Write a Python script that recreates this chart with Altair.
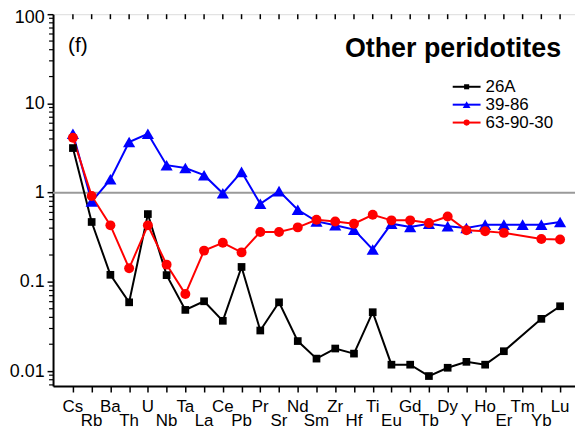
import altair as alt
import pandas as pd

# ---- data ----
elements = ["Cs", "Rb", "Ba", "Th", "U", "Nb", "Ta", "La", "Ce", "Pb", "Pr", "Sr", "Nd",
            "Sm", "Zr", "Hf", "Ti", "Eu", "Gd", "Tb", "Dy", "Y", "Ho", "Er", "Tm", "Yb", "Lu"]

series_names = ["26A", "39-86", "63-90-30"]
series_colors = ["#000000", "#0000ff", "#ff0000"]
series_shapes = ["square", "triangle-up", "circle"]
marker_sizes = [60, 150, 100]
legend_marker_sizes = [26, 60, 38]

v_26A = [3.16, 0.469, 0.120, 0.059, 0.575, 0.119, 0.0485, 0.0606, 0.0366, 0.147, 0.0285,
         0.059, 0.0217, 0.0138, 0.0179, 0.0157, 0.0457, 0.0118, 0.0118, 0.0088, 0.0109,
         0.0127, 0.0118, 0.0167, None, 0.0385, 0.0533]
v_39_86 = [4.57, 0.794, 1.41, 3.69, 4.57, 2.03, 1.89, 1.57, 0.985, 1.71, 0.749, 1.04,
           0.642, 0.476, 0.43, 0.385, 0.231, 0.449, 0.413, 0.449, 0.419, 0.402, 0.438,
           0.438, 0.438, 0.438, 0.469]
v_63_90_30 = [4.13, 0.919, 0.43, 0.142, 0.43, 0.156, 0.073, 0.224, 0.274, 0.214, 0.363,
              0.363, 0.408, 0.497, 0.476, 0.449, 0.565, 0.489, 0.489, 0.457, 0.541, 0.378,
              0.369, 0.354, None, 0.303, 0.298]

y_major = [0.01, 0.1, 1, 10, 100]
y_minor = [0.007, 0.008, 0.009,
           0.02, 0.03, 0.04, 0.05, 0.06, 0.07, 0.08, 0.09,
           0.2, 0.3, 0.4, 0.5, 0.6, 0.7, 0.8, 0.9,
           2, 3, 4, 5, 6, 7, 8, 9,
           20, 30, 40, 50, 60, 70, 80, 90]

panel_tag = "(f)"
panel_title = "Other peridotites"

# ---- tables ----
rows = []
for k, (name, vals) in enumerate(zip(series_names, [v_26A, v_39_86, v_63_90_30])):
    for i, v in enumerate(vals):
        if v is not None:
            rows.append({"idx": i, "element": elements[i], "value": v, "series": name,
                         "k": k, "sz": marker_sizes[k]})
df = pd.DataFrame(rows)

el_df = pd.DataFrame({"idx": list(range(len(elements))), "element": elements})
el_even = el_df[el_df["idx"] % 2 == 0]
el_odd = el_df[el_df["idx"] % 2 == 1]
ref_df = pd.DataFrame({"value": [1]})
minor_df = pd.DataFrame({"value": y_minor})
leg_df = pd.DataFrame({"series": series_names, "rank": [0, 1, 2],
                       "sz": legend_marker_sizes})

FONT = "Liberation Sans"
W, H = 525, 374

x_scale = alt.Scale(domain=[-1.061, 26.796], nice=False, zero=False)
y_scale = alt.Scale(type="log", domain=[0.0068, 100], nice=False)
color_scale = alt.Scale(domain=series_names, range=series_colors)
shape_scale = alt.Scale(domain=series_names, range=series_shapes)

x_axis = alt.Axis(values=list(range(len(elements))), labels=False, ticks=True, tickSize=6,
                  tickWidth=1.5, tickColor="black", domain=True, domainColor="black",
                  domainWidth=2, grid=False, title=None)
y_axis = alt.Axis(values=y_major, format="~g", labelFontSize=18, labelFont=FONT,
                  labelColor="black", tickSize=6, tickWidth=1.5, tickColor="black",
                  domainColor="black", domainWidth=2, labelPadding=3, grid=False, title=None,
                  labelOffset={"condition": {"test": "datum.value >= 100", "value": 3},
                               "value": 0})

X = alt.X("idx:Q", scale=x_scale, axis=x_axis)

ref_rule = alt.Chart(ref_df).mark_rule(color="#9a9a9a", strokeWidth=2).encode(
    y=alt.Y("value:Q", scale=y_scale, axis=None))

minor_ticks = alt.Chart(minor_df).mark_rule(color="black", strokeWidth=1.2).encode(
    y=alt.Y("value:Q", scale=y_scale, axis=None), x=alt.value(-4), x2=alt.value(0))

top_ticks = alt.Chart(el_df).mark_rule(color="black", strokeWidth=1.5).encode(
    x=X, y=alt.value(0), y2=alt.value(5))

lines = alt.Chart(df).mark_line(strokeWidth=2).encode(
    x=X,
    y=alt.Y("value:Q", scale=y_scale, axis=y_axis),
    color=alt.Color("series:N", scale=color_scale, legend=None),
    detail="series:N",
    order=alt.Order("idx:Q"))

points = alt.Chart(df).mark_point(filled=True, opacity=1).encode(
    x=X,
    y=alt.Y("value:Q", scale=y_scale, axis=None),
    color=alt.Color("series:N", scale=color_scale, legend=None),
    shape=alt.Shape("series:N", scale=shape_scale, legend=None),
    size=alt.Size("sz:Q", scale=None, legend=None),
    order=alt.Order("k:Q"))

lab_even = alt.Chart(el_even).mark_text(fontSize=17, font=FONT, color="black",
                                        align="center", baseline="alphabetic").encode(
    x=X, y=alt.value(400), text="element:N")
lab_odd = alt.Chart(el_odd).mark_text(fontSize=17, font=FONT, color="black",
                                      align="center", baseline="alphabetic").encode(
    x=X, y=alt.value(414.5), text="element:N")

leg_y = alt.Y("rank:Q", scale=alt.Scale(domain=[0, 2], range=[73, 109]), axis=None)
leg_line = alt.Chart(leg_df).mark_rule(strokeWidth=2).encode(
    x=alt.value(402), x2=alt.value(430), y=leg_y,
    color=alt.Color("series:N", scale=color_scale, legend=None))
leg_pt = alt.Chart(leg_df).mark_point(filled=True, opacity=1).encode(
    x=alt.value(416), y=leg_y,
    color=alt.Color("series:N", scale=color_scale, legend=None),
    shape=alt.Shape("series:N", scale=shape_scale, legend=None),
    size=alt.Size("sz:Q", scale=None, legend=None))
leg_txt = alt.Chart(leg_df).mark_text(fontSize=17, font=FONT, color="black",
                                      align="left", baseline="middle").encode(
    x=alt.value(435), y=leg_y, text="series:N")

tag = alt.Chart(pd.DataFrame({"t": [panel_tag]})).mark_text(
    fontSize=21, font=FONT, color="black", align="left", baseline="alphabetic").encode(
    x=alt.value(15), y=alt.value(38), text="t:N")
title = alt.Chart(pd.DataFrame({"t": [panel_title]})).mark_text(
    fontSize=27, font=FONT, fontWeight="bold", color="black", align="right",
    baseline="alphabetic").encode(
    x=alt.value(511), y=alt.value(43), text="t:N")

chart = alt.layer(
    ref_rule, minor_ticks, top_ticks, lines, points, lab_even, lab_odd,
    leg_line, leg_pt, leg_txt, tag, title
).resolve_scale(y="independent").properties(
    width=W, height=H,
    padding={"left": 45.3, "top": 5, "right": 0, "bottom": 45},
    autosize=alt.AutoSizeParams(type="none"),
).configure_view(stroke="black", strokeWidth=2).configure(font=FONT)

chart.save("out.html", embed_options={"renderer": "svg", "actions": False})
